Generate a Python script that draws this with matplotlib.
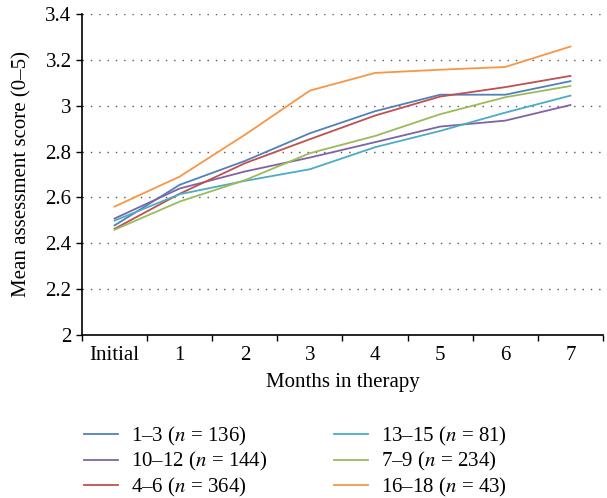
import matplotlib
matplotlib.use('Agg')
import matplotlib.pyplot as plt
import numpy as np

plt.rcParams['font.family'] = ['Liberation Serif', 'DejaVu Serif']
plt.rcParams['mathtext.fontset'] = 'stix'

months = ['Initial', '1', '2', '3', '4', '5', '6', '7']

# mean assessment score per group
g1_3 = [2.478, 2.655, 2.759, 2.880, 2.976, 3.048, 3.048, 3.107]
g4_6 = [2.463, 2.616, 2.749, 2.854, 2.957, 3.040, 3.081, 3.130]
g7_9 = [2.459, 2.582, 2.675, 2.793, 2.868, 2.963, 3.037, 3.086]
g10_12 = [2.508, 2.639, 2.713, 2.774, 2.841, 2.909, 2.935, 3.003]
g13_15 = [2.499, 2.614, 2.672, 2.723, 2.819, 2.890, 2.970, 3.044]
g16_18 = [2.560, 2.691, 2.873, 3.066, 3.143, 3.157, 3.169, 3.258]

labels = ['1–3 ($n$ = 136)', '10–12 ($n$ = 144)', '4–6 ($n$ = 364)',
          '13–15 ($n$ = 81)', '7–9 ($n$ = 234)', '16–18 ($n$ = 43)']
series = [g1_3, g10_12, g4_6, g13_15, g7_9, g16_18]
colors = ['#4F81BD', '#8064A2', '#C0504D', '#4BACC6', '#9BBB59', '#F79646']

fig = plt.figure(figsize=(6.07, 4.98), dpi=100)
ax = fig.add_axes([0.1351, 0.3273, 0.8583, 0.6446])

x = np.arange(len(months))
for s, c, l in zip(series, colors, labels):
    ax.plot(x, s, color=c, lw=1.3, label=l)

ax.set_xlim(-0.5, len(months) - 0.5)
ax.set_ylim(2, 3.4)
ax.set_yticks(np.arange(2, 3.41, 0.2))
ax.set_yticklabels(['2', '2.2', '2.4', '2.6', '2.8', '3', '3.2', '3.4'])

# ticks at category boundaries, labels at centres
ax.set_xticks(np.arange(-0.5, len(months), 1))
ax.set_xticklabels([])
ax.set_xticks(x, minor=True)
ax.set_xticklabels(months, minor=True)
ax.tick_params(axis='x', which='minor', length=0, pad=8)
ax.tick_params(axis='both', which='major', direction='out', length=4,
               width=1, color='black', labelsize=15)
ax.tick_params(axis='x', which='minor', labelsize=15)

ax.grid(axis='y', linestyle=(0, (1, 5)), color='#555555', lw=1)
ax.set_axisbelow(True)
for sp in ['top', 'right']:
    ax.spines[sp].set_visible(False)
for sp in ['left', 'bottom']:
    ax.spines[sp].set_linewidth(1.2)

ax.set_xlabel('Months in therapy', fontsize=15, labelpad=6)
ax.set_ylabel('Mean assessment score (0–5)', fontsize=15, labelpad=10)

fig.legend(loc='upper left', bbox_to_anchor=(0.138, 0.147),
           ncol=2, frameon=False, fontsize=15, handlelength=1.65,
           handletextpad=0.6, columnspacing=3.2, labelspacing=0.12,
           borderpad=0, borderaxespad=0, bbox_transform=fig.transFigure)

fig.savefig('out.png', dpi=100)
